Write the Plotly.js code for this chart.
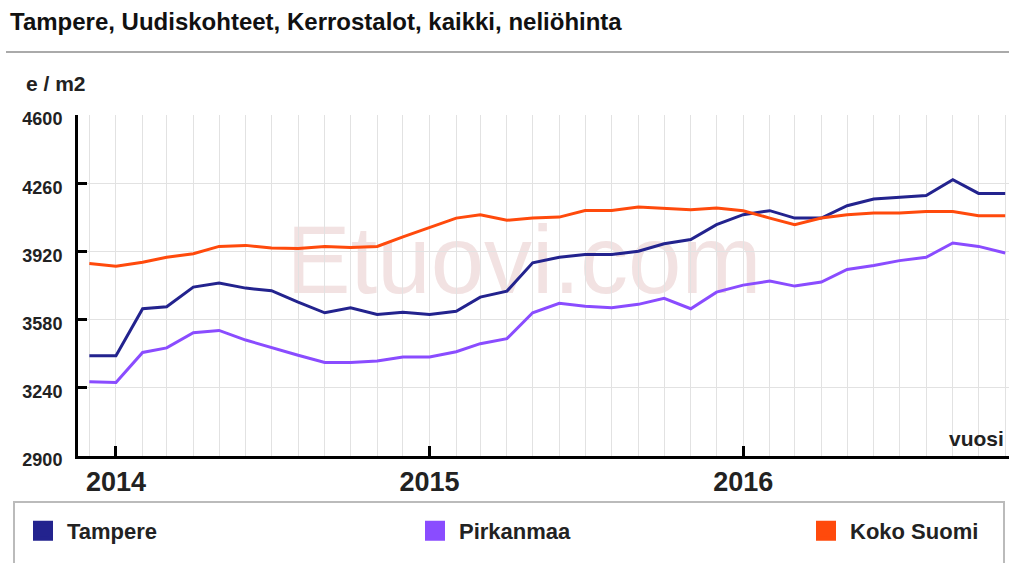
<!DOCTYPE html>
<html>
<head>
<meta charset="utf-8">
<script src="https://cdn.plot.ly/plotly-3.0.1.min.js"></script>
<style>
  html, body { margin: 0; padding: 0; background: #fff; }
  #chart { width: 1009px; height: 563px; }
</style>
</head>
<body>
<div id="chart"></div>
<script>
// ---- data ----
const months = [
  '2013-12',
  '2014-01','2014-02','2014-03','2014-04','2014-05','2014-06','2014-07','2014-08','2014-09','2014-10','2014-11','2014-12',
  '2015-01','2015-02','2015-03','2015-04','2015-05','2015-06','2015-07','2015-08','2015-09','2015-10','2015-11','2015-12',
  '2016-01','2016-02','2016-03','2016-04','2016-05','2016-06','2016-07','2016-08','2016-09','2016-10','2016-11'
];
const tampere = [
  3400,
  3400, 3634, 3644, 3742, 3762, 3737, 3724, 3667, 3614, 3639, 3606, 3617,
  3606, 3622, 3692, 3722, 3863, 3891, 3904, 3904, 3921, 3958, 3979, 4053,
  4103, 4123, 4086, 4086, 4148, 4181, 4189, 4199, 4277, 4209, 4209
];
const pirkanmaa = [
  3270,
  3266, 3416, 3439, 3515, 3526, 3478, 3440, 3402, 3366, 3366, 3374, 3394,
  3394, 3420, 3460, 3485, 3614, 3661, 3647, 3639, 3656, 3686, 3634, 3717,
  3752, 3772, 3747, 3767, 3830, 3850, 3874, 3891, 3962, 3945, 3912
];
const kokoSuomi = [
  3860,
  3846, 3866, 3891, 3908, 3945, 3950, 3937, 3934, 3944, 3940, 3945, 3992,
  4040, 4086, 4103, 4075, 4086, 4091, 4124, 4124, 4141, 4136, 4128, 4136,
  4123, 4086, 4053, 4086, 4103, 4111, 4111, 4119, 4119, 4098, 4098
];
const seriesNames = ['Tampere', 'Pirkanmaa', 'Koko Suomi'];
const seriesColors = ['#23238e', '#8a4cff', '#ff4a0c'];
const yTicks = [2900, 3240, 3580, 3920, 4260, 4600];
const yearLabels = ['2014', '2015', '2016'];

const titleText = 'Tampere, Uudiskohteet, Kerrostalot, kaikki, neliöhinta';
const yUnit = 'e / m2';
const xUnit = 'vuosi';
const watermark = 'Etuovi.com';

// ---- build ----
const xDates = months.map(m => m + '-01');
const yearTickVals = yearLabels.map(y => y + '-01-01');
const seriesValues = [tampere, pirkanmaa, kokoSuomi];

const W = 1009, H = 563;
const M = { l: 78, r: 0, t: 115, b: 107 };
const PW = W - M.l - M.r, PH = H - M.t - M.b;
const px = x => (x - M.l) / PW;          // pixel -> paper x
const py = y => (H - M.b - y) / PH;      // pixel -> paper y

const FONT = 'Liberation Sans, Arial, Helvetica, sans-serif';
const legendIds = ['legend', 'legend2', 'legend3'];
const legendLeft = [19, 411, 802];

const traces = [];
seriesNames.forEach((name, i) => {
  traces.push({
    type: 'scatter', mode: 'lines', name: name,
    x: xDates, y: seriesValues[i],
    line: { color: seriesColors[i], width: 3 },
    showlegend: false
  });
});
seriesNames.forEach((name, i) => {
  traces.push({
    type: 'scatter', mode: 'markers', name: name,
    x: [null], y: [null],
    marker: { symbol: 'square', size: 16, color: seriesColors[i],
              line: { color: seriesColors[i], width: 4 } },
    legend: legendIds[i], showlegend: true, hoverinfo: 'skip'
  });
});

const legendBase = (i) => ({
  xref: 'container', yref: 'container',
  x: legendLeft[i] / W, y: 1 - 531 / H,
  xanchor: 'left', yanchor: 'middle',
  orientation: 'h', itemwidth: 38,
  bgcolor: 'rgba(0,0,0,0)', borderwidth: 0,
  font: { family: FONT, size: 22, weight: 'bold', color: '#222' }
});

const layout = {
  width: W, height: H,
  margin: M,
  paper_bgcolor: '#fff', plot_bgcolor: '#fff',
  showlegend: true,
  title: {
    text: titleText,
    xref: 'container', yref: 'container',
    x: 10 / W, xanchor: 'left',
    y: 1 - 22 / H, yanchor: 'middle',
    font: { family: FONT, size: 24, weight: 'bold', color: '#111' }
  },
  legend: legendBase(0),
  legend2: legendBase(1),
  legend3: legendBase(2),
  xaxis: {
    type: 'date',
    range: ['2013-11-17 19:00', '2016-11-05 10:00'],
    tickmode: 'array', tickvals: yearTickVals, ticktext: yearLabels,
    ticks: 'inside', ticklen: 10, tickwidth: 3, tickcolor: '#000',
    showline: true, linewidth: 3, linecolor: '#000',
    showgrid: true, gridcolor: '#e2e2e2', gridwidth: 1,
    minor: { tickmode: 'array', tickvals: xDates, showgrid: true, gridcolor: '#e2e2e2', gridwidth: 1, ticks: '' },
    zeroline: false,
    tickfont: { family: FONT, size: 27, weight: 'bold', color: '#222' },
    fixedrange: true
  },
  yaxis: {
    range: [2900, 4600],
    tickmode: 'array', tickvals: yTicks,
    ticks: 'inside', ticklen: 9, tickwidth: 3, tickcolor: '#000',
    showline: true, linewidth: 3, linecolor: '#000',
    showgrid: true, gridcolor: '#e2e2e2', gridwidth: 1,
    zeroline: false,
    ticklabelstandoff: 9,
    ticklabelshift: 4,
    tickfont: { family: FONT, size: 18, weight: 'bold', color: '#222' },
    fixedrange: true
  },
  shapes: [
    // separator line under title
    { type: 'line', xref: 'paper', yref: 'paper', x0: px(6), x1: px(1009), y0: py(52), y1: py(52),
      line: { color: '#aaaaaa', width: 2 } },
    // legend frame
    { type: 'rect', xref: 'paper', yref: 'paper', x0: px(14), x1: px(1004), y0: py(575), y1: py(502),
      line: { color: '#bbbbbb', width: 2 }, fillcolor: 'rgba(0,0,0,0)' },
    // watermark
    { type: 'rect', xref: 'paper', yref: 'paper', x0: px(274), x1: px(774), y0: py(300), y1: py(200),
      layer: 'below', line: { width: 0 }, fillcolor: 'rgba(0,0,0,0)',
      label: { text: watermark, textposition: 'middle center',
               font: { family: FONT, size: 96, color: '#f2e2e2' } } }
  ],
  annotations: [
    { text: yUnit, xref: 'paper', yref: 'paper', x: px(24), y: py(83),
      xanchor: 'left', yanchor: 'middle', showarrow: false,
      font: { family: FONT, size: 21, weight: 'bold', color: '#222' } },
    { text: xUnit, xref: 'paper', yref: 'paper', x: px(1006), y: py(438),
      xanchor: 'right', yanchor: 'middle', showarrow: false,
      font: { family: FONT, size: 21, weight: 'bold', color: '#222' } }
  ]
};

Plotly.newPlot('chart', traces, layout, { displayModeBar: false, staticPlot: true });
</script>
</body>
</html>
